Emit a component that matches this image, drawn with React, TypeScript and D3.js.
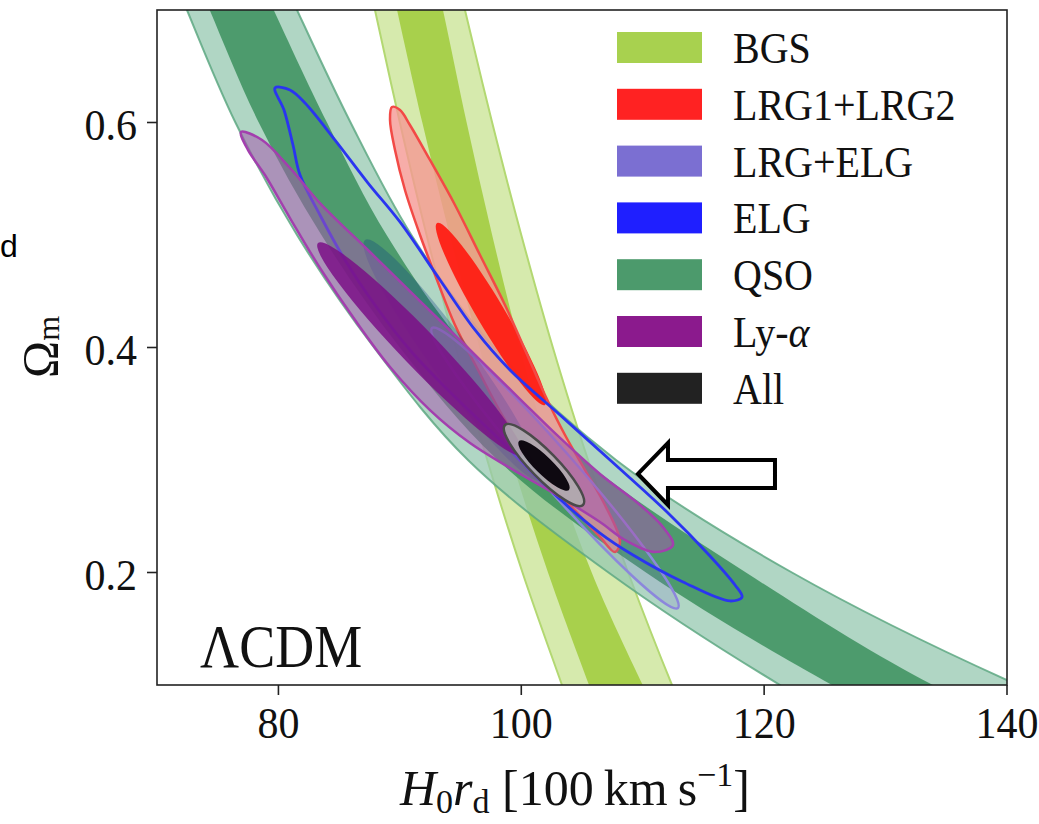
import React from 'react';
import * as d3 from 'd3';

const WIDTH = 1039;
const HEIGHT = 824;
const M = { left: 157, right: 1007, top: 10, bottom: 685 };

const xDomain: [number, number] = [70, 140];
const yDomain: [number, number] = [0.1, 0.7];
const xTicks = [80, 100, 120, 140];
const yTicks = [0.2, 0.4, 0.6];

// Bands sampled at fixed Omega_m levels (H0 rd values of the edges)
const bandOmega = [0.75, 0.7, 0.6, 0.5, 0.4, 0.3, 0.2, 0.1, 0.05];

const bgsOuterLo = [86.96, 87.95, 90.0, 92.2, 94.6, 97.2, 100.1, 103.35, 105.0];
const bgsInnerLo = [88.78, 89.77, 91.85, 94.1, 96.55, 99.2, 102.2, 105.58, 107.3];
const bgsInnerHi = [92.5, 93.55, 95.5, 97.6, 99.9, 102.5, 105.8, 110.0, 112.3];
const bgsOuterHi = [94.3, 95.36, 97.6, 100.0, 102.6, 105.5, 108.8, 112.41, 114.4];

const qsoOuterLo = [70.63, 72.47, 76.46, 81.53, 87.87, 95.61, 107.18, 121.31, 129.7];
const qsoInnerLo = [72.45, 74.34, 78.38, 83.54, 90.0, 98.06, 110.27, 125.59, 134.8];
const qsoInnerHi = [77.51, 79.61, 84.0, 88.91, 95.48, 105.13, 118.5, 133.9, 144.9];
const qsoOuterHi = [79.43, 81.53, 85.94, 90.95, 97.73, 107.8, 122.29, 140.9, 152.4];

// Closed contours [H0 rd, Omega_m]
const lrgOuter: [number, number][] = [
  [89.35, 0.6138], [89.19, 0.6022], [89.6, 0.5756], [90.42, 0.54], [91.66, 0.5], [93.06, 0.46],
  [94.54, 0.42], [96.44, 0.38], [98.66, 0.3356], [101.13, 0.2956], [104.01, 0.26], [106.48, 0.2316],
  [107.72, 0.2182], [108.13, 0.2271], [106.89, 0.26], [105.25, 0.2911], [103.6, 0.3222],
  [101.95, 0.3578], [100.31, 0.3978], [98.66, 0.4378], [96.6, 0.4822], [94.54, 0.5267],
  [92.48, 0.5667], [90.83, 0.5978], [90.01, 0.6111],
];

const elgOuter: [number, number][] = [
  [79.72, 0.6307], [80.95, 0.6289], [82.19, 0.6173], [84.66, 0.5844], [87.38, 0.5462], [90.01, 0.5116],
  [93.31, 0.46], [96.19, 0.4156], [99.07, 0.38], [103.19, 0.34], [107.31, 0.3], [112.0, 0.2538],
  [115.54, 0.2147], [117.6, 0.1889], [118.18, 0.1782], [117.19, 0.1747], [113.32, 0.1916],
  [109.2, 0.2156], [106.48, 0.2351], [102.36, 0.2733], [98.25, 0.3178], [94.13, 0.3604],
  [90.83, 0.3978], [87.95, 0.4378], [85.48, 0.4778], [83.42, 0.5178], [81.78, 0.5533],
  [81.2, 0.58], [80.46, 0.6111],
];

const lyaOuter: [number, number][] = [
  [76.92, 0.5916], [78.65, 0.5844], [80.95, 0.5596], [83.42, 0.5284], [87.54, 0.4849], [91.66, 0.4413],
  [95.78, 0.3978], [99.89, 0.3542], [103.19, 0.3196], [106.48, 0.2876], [109.78, 0.26], [111.67, 0.2404],
  [112.49, 0.2244], [111.01, 0.2182], [108.54, 0.2289], [106.48, 0.2449], [103.19, 0.2671],
  [99.07, 0.2929], [95.78, 0.3151], [92.48, 0.3444], [89.19, 0.3827], [86.31, 0.4244],
  [83.42, 0.4707], [80.95, 0.5151], [78.89, 0.5533], [77.49, 0.5756],
];

// Ellipses: ends of the long axis and minor/major ratio
const lrgInner = { a: [93.06, 0.5107], b: [101.95, 0.3489], ratio: 0.13 };
const lrgElgOuter = { a: [92.65, 0.4173], b: [112.9, 0.1684], ratio: 0.1 };
const elgInner = { a: [87.13, 0.4956], b: [101.54, 0.2822], ratio: 0.14 };
const lyaInner = { a: [83.26, 0.4929], b: [100.06, 0.3044], ratio: 0.125 };
const allOuter = { a: [98.66, 0.3311], b: [105.08, 0.26], ratio: 0.24 };
const allInner = { a: [99.81, 0.3169], b: [103.93, 0.2733], ratio: 0.25 };

const arrowTip = [109.61, 0.2876];

const legendNames = ['BGS', 'LRG1+LRG2', 'LRG+ELG', 'ELG', 'QSO', 'Ly-α', 'All'];
const legendColors = ['#a8d14f', '#ff2222', '#7b6fd2', '#1f1fff', '#4c9a6c', '#8b1a8d', '#222222'];

const SERIF = "'Liberation Serif', 'DejaVu Serif', serif";

export default function App() {
  const x = d3.scaleLinear().domain(xDomain).range([M.left, M.right]);
  const y = d3.scaleLinear().domain(yDomain).range([M.bottom, M.top]);
  const idx = bandOmega.map((_, i) => i);

  const bandArea = (lo: number[], hi: number[]) =>
    d3.area<number>().curve(d3.curveCatmullRom.alpha(0.5))
      .y((i) => y(bandOmega[i])).x0((i) => x(lo[i])).x1((i) => x(hi[i]))(idx) || '';
  const edge = (v: number[]) =>
    d3.line<number>().curve(d3.curveCatmullRom.alpha(0.5))
      .x((i) => x(v[i])).y((i) => y(bandOmega[i]))(idx) || '';
  const closed = (pts: [number, number][]) =>
    d3.line<[number, number]>().curve(d3.curveCatmullRomClosed.alpha(0.5))
      .x((p) => x(p[0])).y((p) => y(p[1]))(pts) || '';
  const ell = (e: any) => {
    const ax = x(e.a[0]), ay = y(e.a[1]), bx = x(e.b[0]), by = y(e.b[1]);
    const cx = (ax + bx) / 2, cy = (ay + by) / 2;
    const len = Math.hypot(bx - ax, by - ay);
    const ang = (Math.atan2(by - ay, bx - ax) * 180) / Math.PI;
    return { cx, cy, rx: len / 2, ry: (len * e.ratio) / 2, transform: `rotate(${ang} ${cx} ${cy})` };
  };

  const tx = x(arrowTip[0]), ty = y(arrowTip[1]);
  const arrowPts = [[0, 0], [30, -31], [30, -14], [137, -14], [137, 14], [30, 14], [30, 31]]
    .map((p) => `${tx + p[0]},${ty + p[1]}`).join(' ');

  return (
    <svg width={WIDTH} height={HEIGHT} style={{ position: 'absolute', left: 0, top: 0, background: '#fff' }}>
      <defs>
        <clipPath id="plot">
          <rect x={M.left} y={M.top} width={M.right - M.left} height={M.bottom - M.top} />
        </clipPath>
      </defs>
      <rect width={WIDTH} height={HEIGHT} fill="#fff" />
      <text x={0} y={257} fontSize={32} fontFamily="'Liberation Sans', Arial, sans-serif" fill="#000">d</text>
      <g clipPath="url(#plot)">
        {/* BGS */}
        <path d={bandArea(bgsOuterLo, bgsOuterHi)} fill="#d6eaad" />
        <path d={bandArea(bgsInnerLo, bgsInnerHi)} fill="#a8d04c" />
        <path d={edge(bgsOuterLo)} fill="none" stroke="#b3d872" strokeWidth={2} />
        <path d={edge(bgsOuterHi)} fill="none" stroke="#b3d872" strokeWidth={2} />
        {/* QSO */}
        <path d={bandArea(qsoOuterLo, qsoOuterHi)} fill="#96c8b0" fillOpacity={0.75} />
        <path d={bandArea(qsoInnerLo, qsoInnerHi)} fill="#348c58" fillOpacity={0.8} />
        <path d={edge(qsoOuterLo)} fill="none" stroke="#5ea882" strokeWidth={2} strokeOpacity={0.85} />
        <path d={edge(qsoOuterHi)} fill="none" stroke="#5ea882" strokeWidth={2} strokeOpacity={0.85} />
        {/* LRG1+LRG2 */}
        <path d={closed(lrgOuter)} fill="#f59893" fillOpacity={0.8} />
        <ellipse {...ell(lrgInner)} fill="#ff1a10" fillOpacity={0.92} />
        <path d={closed(lrgOuter)} fill="none" stroke="#f24a46" strokeWidth={2.5} />
        {/* LRG+ELG */}
        <ellipse {...ell(lrgElgOuter)} fill="#7b6fd2" fillOpacity={0.18} stroke="#8c87dc" strokeWidth={2.5} />
        {/* ELG */}
        <ellipse {...ell(elgInner)} fill="#0a3a80" fillOpacity={0.3} />
        <path d={closed(elgOuter)} fill="none" stroke="#2a35f0" strokeWidth={2.8} />
        {/* Ly-alpha */}
        <path d={closed(lyaOuter)} fill="#a656ae" fillOpacity={0.52} stroke="#a33fae" strokeWidth={2.5} />
        <ellipse {...ell(lyaInner)} fill="#7a0f86" fillOpacity={0.85} />
        {/* All */}
        <ellipse {...ell(allOuter)} fill="#b0b0b0" fillOpacity={0.85} stroke="#4a4a4a" strokeWidth={2.5} />
        <ellipse {...ell(allInner)} fill="#050008" fillOpacity={0.95} />
      </g>
      {/* frame */}
      <rect x={M.left} y={M.top} width={M.right - M.left} height={M.bottom - M.top} fill="none" stroke="#222" strokeWidth={1.6} />
      {xTicks.map((t) => (
        <g key={`xt${t}`}>
          <line x1={x(t)} x2={x(t)} y1={M.bottom} y2={M.bottom + 10} stroke="#222" strokeWidth={1.6} />
          <text transform={`translate(${x(t)},738) scale(1,1.06)`} textAnchor="middle" fontSize={42} fontFamily={SERIF} fill="#111">{t}</text>
        </g>
      ))}
      {yTicks.map((t) => (
        <g key={`yt${t}`}>
          <line x1={M.left - 10} x2={M.left} y1={y(t)} y2={y(t)} stroke="#222" strokeWidth={1.6} />
          <text transform={`translate(137,${y(t) + 17}) scale(1,1.06)`} textAnchor="end" fontSize={42} fontFamily={SERIF} fill="#111">{t.toFixed(1)}</text>
        </g>
      ))}
      {/* axis labels */}
      <text x={400} y={805} fontSize={50} fontFamily={SERIF} fill="#111">
        <tspan fontStyle="italic">H</tspan>
        <tspan fontSize={34} dy={8}>0</tspan>
        <tspan fontStyle="italic" dy={-8}>r</tspan>
        <tspan fontSize={34} dy={8}>d</tspan>
        <tspan dy={-8}>{' [100\u2009km\u2009s'}</tspan>
        <tspan fontSize={34} dy={-19}>{'\u22121'}</tspan>
        <tspan dy={19}>]</tspan>
      </text>
      <g transform="translate(57,378) rotate(-90)">
        <text fontSize={50} fontFamily={SERIF} fill="#111">
          Ω<tspan fontSize={32} dy={2}>m</tspan>
        </text>
      </g>
      <text transform="translate(200,667) scale(1,1.15)" fontSize={54} fontFamily={SERIF} fill="#111">ΛCDM</text>
      {/* legend */}
      {legendNames.map((n, i) => (
        <g key={n}>
          <rect x={617} y={32 + i * 56.8} width={85} height={31} fill={legendColors[i]} />
          <text transform={`translate(733,${63 + i * 56.8}) scale(1,1.1)`} fontSize={40} fontFamily={SERIF} fill="#111">
            {n === 'Ly-α' ? (<>Ly-<tspan fontStyle="italic">α</tspan></>) : n}
          </text>
        </g>
      ))}
      {/* arrow annotation */}
      <polygon points={arrowPts} fill="#fff" stroke="#000" strokeWidth={4} strokeLinejoin="miter" />
    </svg>
  );
}
